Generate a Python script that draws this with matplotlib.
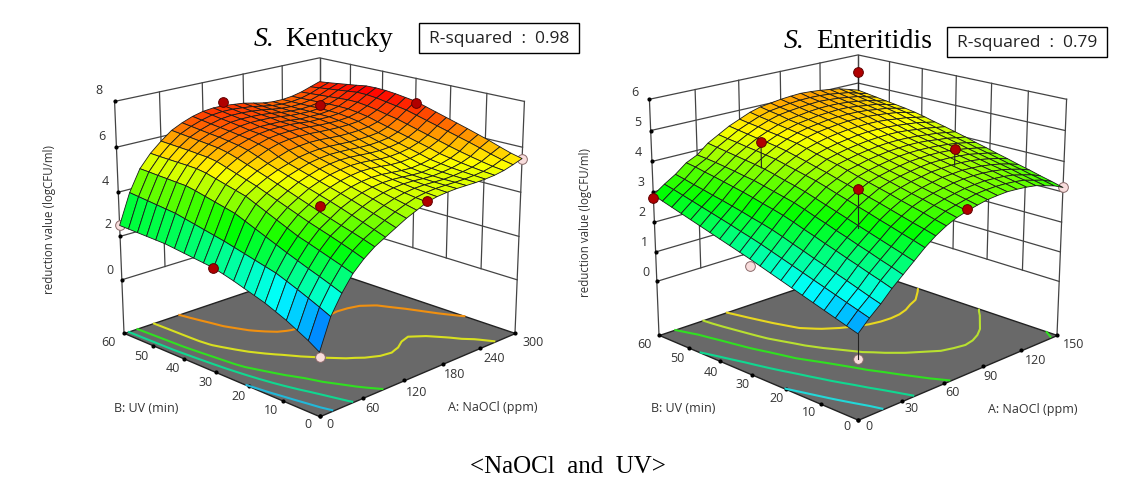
import numpy as np
import matplotlib
matplotlib.use("Agg")
import matplotlib.pyplot as plt
from matplotlib.colors import LinearSegmentedColormap, Normalize
from matplotlib.patches import Rectangle
from mpl_toolkits.mplot3d import proj3d
from mpl_toolkits.mplot3d.art3d import Poly3DCollection

W, H = 1128, 483

# ---------- S. Kentucky ----------
k_naocl = np.arange(0, 301, 15)
k_uv = np.arange(0, 61, 3)
k_z = np.array([
[.20,1.50,2.30,2.95,3.40,3.75,4.00,4.25,4.50,4.70,4.90,5.00,5.05,5.08,5.08,5.08,5.10,5.14,5.22,5.35,5.50],
[.50,1.72,2.49,3.12,3.58,3.91,4.17,4.41,4.63,4.81,4.96,5.04,5.08,5.09,5.09,5.10,5.13,5.18,5.28,5.45,5.62],
[.75,1.93,2.67,3.28,3.74,4.06,4.33,4.56,4.76,4.92,5.03,5.09,5.11,5.10,5.09,5.12,5.17,5.24,5.37,5.58,5.78],
[1.00,2.13,2.84,3.44,3.90,4.20,4.49,4.71,4.90,5.03,5.11,5.15,5.15,5.12,5.11,5.15,5.21,5.31,5.47,5.73,5.95],
[1.20,2.32,3.02,3.60,4.05,4.35,4.65,4.86,5.03,5.14,5.20,5.21,5.19,5.15,5.14,5.19,5.27,5.39,5.58,5.87,6.10],
[1.40,2.50,3.20,3.75,4.20,4.50,4.80,5.00,5.15,5.25,5.30,5.30,5.26,5.22,5.20,5.25,5.34,5.48,5.70,6.00,6.25],
[1.55,2.62,3.39,3.95,4.37,4.66,4.94,5.13,5.28,5.38,5.44,5.44,5.40,5.35,5.34,5.38,5.47,5.62,5.83,6.13,6.39],
[1.70,2.74,3.58,4.15,4.54,4.82,5.08,5.26,5.41,5.50,5.56,5.56,5.53,5.48,5.47,5.51,5.59,5.74,5.96,6.26,6.53],
[1.85,2.86,3.77,4.35,4.71,4.98,5.22,5.39,5.54,5.63,5.68,5.68,5.65,5.62,5.61,5.64,5.71,5.86,6.09,6.39,6.67],
[1.98,2.98,3.96,4.55,4.88,5.14,5.36,5.52,5.67,5.75,5.80,5.80,5.78,5.75,5.74,5.77,5.83,5.98,6.22,6.52,6.81],
[2.10,3.10,4.15,4.75,5.05,5.30,5.50,5.65,5.80,5.88,5.92,5.92,5.90,5.88,5.88,5.90,5.95,6.10,6.35,6.65,6.95],
[2.16,3.20,4.26,4.87,5.19,5.45,5.65,5.82,5.98,6.05,6.09,6.09,6.06,6.03,6.03,6.05,6.10,6.22,6.44,6.73,7.02],
[2.22,3.30,4.37,4.99,5.33,5.60,5.82,6.02,6.16,6.23,6.25,6.25,6.22,6.20,6.19,6.20,6.24,6.35,6.55,6.81,7.09],
[2.28,3.40,4.48,5.11,5.47,5.75,5.98,6.14,6.28,6.34,6.36,6.36,6.33,6.29,6.28,6.28,6.32,6.43,6.63,6.89,7.14],
[2.34,3.50,4.59,5.23,5.61,5.88,6.08,6.24,6.36,6.42,6.43,6.43,6.39,6.34,6.34,6.34,6.38,6.49,6.69,6.94,7.16],
[2.40,3.60,4.68,5.30,5.68,5.97,6.15,6.30,6.40,6.45,6.45,6.45,6.40,6.35,6.35,6.35,6.40,6.50,6.70,6.95,7.15],
[2.42,3.65,4.70,5.32,5.71,6.01,6.21,6.36,6.47,6.52,6.52,6.51,6.46,6.40,6.38,6.37,6.41,6.50,6.67,6.90,7.08],
[2.44,3.70,4.73,5.33,5.74,6.05,6.25,6.41,6.53,6.57,6.57,6.55,6.50,6.43,6.39,6.37,6.40,6.48,6.64,6.85,7.02],
[2.46,3.75,4.75,5.34,5.76,6.09,6.30,6.46,6.58,6.63,6.63,6.60,6.55,6.47,6.41,6.38,6.40,6.47,6.61,6.80,6.96],
[2.48,3.80,4.78,5.35,5.78,6.13,6.35,6.52,6.64,6.69,6.69,6.65,6.60,6.51,6.43,6.39,6.40,6.46,6.58,6.75,6.90],
[2.50,3.85,4.80,5.37,5.80,6.17,6.40,6.58,6.70,6.75,6.75,6.70,6.65,6.55,6.45,6.40,6.40,6.45,6.55,6.70,6.85],
])
k_levels = [1.7, 3.0, 4.0, 5.2, 6.2]
k_level_colors = ["#22b8d8", "#10d890", "#30e020", "#d8e020", "#f09010"]
k_pts_a = [0, 0, 0, 150, 150, 150, 300, 300, 300]
k_pts_b = [0, 30, 60, 0, 30, 60, 0, 30, 60]
k_pts_z = [0.0, 2.1, 2.5, 4.96, 3.4, 6.9, 5.5, 6.85, 5.7]
k_pts_above = [False, True, False, True, True, True, False, True, True]
k_a_ticks = [0, 60, 120, 180, 240, 300]
k_b_ticks = [0, 10, 20, 30, 40, 50, 60]
k_z_ticks = [0, 2, 4, 6, 8]

# ---------- S. Enteritidis ----------
e_naocl = np.arange(0, 150.1, 7.5)
e_uv = np.arange(0, 61, 3)
e_z = np.array([
[.80,1.15,1.45,1.80,2.10,2.40,2.70,2.95,3.15,3.30,3.40,3.48,3.55,3.58,3.60,3.58,3.55,3.50,3.40,3.30,3.15],
[.91,1.26,1.56,1.92,2.22,2.51,2.81,3.05,3.24,3.39,3.48,3.56,3.63,3.66,3.67,3.66,3.63,3.58,3.48,3.39,3.25],
[1.02,1.37,1.68,2.03,2.33,2.62,2.91,3.14,3.34,3.47,3.57,3.64,3.70,3.73,3.75,3.73,3.70,3.65,3.56,3.47,3.34],
[1.13,1.48,1.80,2.15,2.45,2.73,3.02,3.24,3.43,3.56,3.65,3.72,3.78,3.81,3.82,3.81,3.78,3.73,3.65,3.56,3.44],
[1.24,1.59,1.91,2.26,2.56,2.84,3.12,3.34,3.52,3.64,3.73,3.80,3.86,3.88,3.90,3.88,3.85,3.80,3.73,3.64,3.53],
[1.35,1.70,2.03,2.38,2.68,2.95,3.23,3.44,3.62,3.73,3.82,3.88,3.94,3.96,3.97,3.96,3.93,3.88,3.81,3.73,3.63],
[1.46,1.81,2.14,2.49,2.79,3.06,3.33,3.53,3.71,3.82,3.90,3.96,4.01,4.04,4.04,4.03,4.00,3.96,3.89,3.82,3.72],
[1.57,1.92,2.26,2.61,2.91,3.17,3.44,3.63,3.80,3.90,3.98,4.04,4.09,4.11,4.12,4.11,4.08,4.03,3.97,3.90,3.82],
[1.68,2.03,2.37,2.72,3.02,3.28,3.54,3.73,3.89,3.99,4.06,4.12,4.17,4.19,4.19,4.18,4.15,4.11,4.06,3.99,3.91],
[1.79,2.14,2.49,2.84,3.14,3.39,3.65,3.82,3.99,4.07,4.15,4.20,4.24,4.26,4.27,4.26,4.23,4.18,4.14,4.07,4.01],
[1.90,2.25,2.60,2.95,3.25,3.50,3.75,3.92,4.08,4.16,4.23,4.28,4.32,4.34,4.34,4.33,4.30,4.26,4.22,4.16,4.10],
[2.00,2.35,2.69,3.04,3.33,3.59,3.83,4.00,4.16,4.25,4.32,4.37,4.41,4.43,4.44,4.43,4.40,4.35,4.31,4.25,4.19],
[2.10,2.44,2.77,3.12,3.41,3.67,3.91,4.09,4.24,4.34,4.41,4.46,4.51,4.53,4.53,4.52,4.49,4.45,4.41,4.34,4.27],
[2.20,2.54,2.86,3.21,3.49,3.76,3.99,4.17,4.33,4.43,4.51,4.56,4.60,4.62,4.63,4.62,4.59,4.54,4.50,4.43,4.36],
[2.30,2.63,2.94,3.29,3.57,3.84,4.07,4.25,4.41,4.52,4.60,4.65,4.69,4.72,4.72,4.71,4.68,4.64,4.59,4.52,4.44],
[2.40,2.72,3.02,3.36,3.62,3.90,4.12,4.31,4.46,4.58,4.66,4.71,4.76,4.78,4.79,4.78,4.75,4.70,4.66,4.58,4.50],
[2.50,2.81,3.09,3.43,3.68,3.95,4.17,4.36,4.51,4.63,4.72,4.77,4.82,4.84,4.86,4.85,4.81,4.76,4.72,4.63,4.55],
[2.60,2.90,3.17,3.50,3.73,4.00,4.21,4.40,4.55,4.68,4.77,4.82,4.87,4.90,4.91,4.90,4.87,4.82,4.77,4.68,4.60],
[2.70,2.99,3.24,3.56,3.78,4.05,4.26,4.45,4.61,4.74,4.84,4.89,4.93,4.96,4.98,4.96,4.93,4.88,4.83,4.74,4.65],
[2.80,3.08,3.32,3.63,3.82,4.10,4.30,4.50,4.65,4.79,4.89,4.94,4.99,5.02,5.03,5.02,4.99,4.94,4.89,4.79,4.70],
[2.90,3.16,3.39,3.68,3.85,4.15,4.35,4.55,4.70,4.85,4.95,5.00,5.05,5.08,5.10,5.08,5.05,5.00,4.95,4.85,4.75],
])
e_levels = [1.55, 2.45, 3.25, 3.85, 4.4]
e_level_colors = ["#22d8d8", "#10d890", "#30e020", "#b8e030", "#e8d820"]
e_pts_a = [0, 0, 0, 75, 75, 75, 150, 150, 150]
e_pts_b = [0, 30, 60, 0, 30, 60, 0, 30, 60]
e_pts_z = [0.03, 1.68, 2.8, 3.45, 3.1, 3.75, 3.15, 3.5, 5.4]
e_pts_above = [False, False, True, True, True, True, False, True, True]
e_stem_z = [0.8, None, None, None, 1.8, 2.86, None, 2.95, 4.75]
e_a_ticks = [0, 30, 60, 90, 120, 150]
e_b_ticks = [0, 10, 20, 30, 40, 50, 60]
e_z_ticks = [0, 1, 2, 3, 4, 5, 6]

rsm_cmap = LinearSegmentedColormap.from_list(
    "rsm", ["#0000ff", "#00ffff", "#00ff00", "#ffff00", "#ff0000"])

fig = plt.figure(figsize=(W / 100, H / 100), dpi=100, facecolor="white")


def panel(a, b, z, levels, level_colors, a_ticks, b_ticks, z_ticks, zfloor, ztop,
          vmax, pa, pb, pz, above, stems, left_px, right_px):
    ax = fig.add_axes([0.05, 0.05, 500 / W, 500 / H], projection="3d",
                      computed_zorder=False)
    ax.set_axis_off()
    ax.patch.set_alpha(0)
    ax.set_proj_type("persp", focal_length=0.65)
    ax.view_init(elev=18, azim=-135)
    ax.set_box_aspect((1, 1, 0.86))
    amax, bmax = a[-1], b[-1]
    ax.set_xlim(0, amax)
    ax.set_ylim(0, bmax)
    ax.set_zlim(zfloor, ztop)
    wall = "#444444"
    # back walls
    for t in a_ticks:
        zlo = zfloor if t == 0 else z_ticks[0]
        ax.plot([t, t], [bmax, bmax], [zlo, ztop], color=wall, lw=0.9, zorder=1)
    for t in b_ticks:
        zlo = zfloor if t == 0 else z_ticks[0]
        ax.plot([amax, amax], [t, t], [zlo, ztop], color=wall, lw=0.9, zorder=1)
    for t in z_ticks:
        ax.plot([0, amax, amax], [bmax, bmax, 0], [t, t, t], color=wall, lw=0.9, zorder=1)
    ax.plot([0] * len(z_ticks), [bmax] * len(z_ticks), z_ticks, ls="", marker="o",
            ms=2, color="k", zorder=1)
    # floor
    floor = Poly3DCollection([[(0, 0, zfloor), (amax, 0, zfloor),
                               (amax, bmax, zfloor), (0, bmax, zfloor)]],
                             facecolor="#696969", edgecolor="#222222", linewidth=1.0,
                             zorder=2)
    ax.add_collection3d(floor)
    ax.plot(a_ticks, [0] * len(a_ticks), [zfloor] * len(a_ticks), ls="", marker="o",
            ms=2, color="k", zorder=2.5)
    ax.plot([0] * len(b_ticks), b_ticks, [zfloor] * len(b_ticks), ls="", marker="o",
            ms=2, color="k", zorder=2.5)
    # floor contours
    X, Y = np.meshgrid(a, b)
    cs = ax.contour(X, Y, z, levels=levels, colors=level_colors, zdir="z",
                    offset=zfloor, linewidths=1.5)
    cs.set_zorder(3)
    # points under the surface
    for i in range(len(pa)):
        if not above[i]:
            face = "#f8dcdc"
            ax.plot([pa[i]], [pb[i]], [pz[i]], marker="o", ms=7, mfc=face,
                    mec="#8a6a6a", mew=0.7, zorder=3.5)
    # surface
    surf = ax.plot_surface(X, Y, z, rstride=1, cstride=1, cmap=rsm_cmap,
                           norm=Normalize(0, vmax), shade=False,
                           edgecolor="#1a1a1a", linewidth=0.6, antialiased=True)
    surf.set_zorder(4)
    surf.set_clip_on(False)
    # points over the surface
    for i in range(len(pa)):
        if stems is not None and stems[i] is not None:
            ax.plot([pa[i], pa[i]], [pb[i], pb[i]], [pz[i], stems[i]],
                    color="#222222", lw=0.8, zorder=5)
        if above[i]:
            ax.plot([pa[i]], [pb[i]], [pz[i]], marker="o", ms=7, mfc="#b00000",
                    mec="#600000", mew=0.7, zorder=6)
    # fit the box to the reference corners
    for _ in range(2):
        fig.canvas.draw()
        M = ax.get_proj()
        xl, yl, _z = proj3d.proj_transform(0, bmax, zfloor, M)
        xr, yr, _z = proj3d.proj_transform(amax, 0, zfloor, M)
        pl = ax.transData.transform((xl, yl))
        pr = ax.transData.transform((xr, yr))
        bb = ax.get_position()
        cx, cy = (bb.x0 + bb.width / 2) * W, (bb.y0 + bb.height / 2) * H
        sc = (right_px[0] - left_px[0]) / (pr[0] - pl[0])
        mid = (pl + pr) / 2
        tx = (left_px[0] + right_px[0]) / 2
        ty = H - (left_px[1] + right_px[1]) / 2
        ncx = tx - (mid[0] - cx) * sc
        ncy = ty - (mid[1] - cy) * sc
        size = bb.width * W * sc
        ax.set_position([(ncx - size / 2) / W, (ncy - size / 2) / H, size / W, size / H])
    return ax


panel(k_naocl, k_uv, k_z, k_levels, k_level_colors, k_a_ticks, k_b_ticks, k_z_ticks,
      -2.5, 8, 7.1, k_pts_a, k_pts_b, k_pts_z, k_pts_above, None, (124, 333), (515, 333))
panel(e_naocl, e_uv, e_z, e_levels, e_level_colors, e_a_ticks, e_b_ticks, e_z_ticks,
      -1.85, 6, 6.0, e_pts_a, e_pts_b, e_pts_z, e_pts_above, e_stem_z, (659, 335), (1057, 335))


def txt(x, y, s, **kw):
    kw.setdefault("ha", "center")
    kw.setdefault("va", "center")
    fig.text(x / W, 1 - y / H, s, **kw)


SANS = dict(family="Open Sans", fontsize=9, color="#333333")
k_a_lab = [(330, 425), (372, 408), (417, 392), (455, 375), (494, 359), (533, 343)]
k_b_lab = [(308, 425), (271, 411), (239, 397), (206, 383), (173, 369), (141, 356), (108, 343)]
k_z_lab = [(110, 270), (108, 225), (105, 181), (102, 136), (99, 91)]
e_a_lab = [(869, 426), (912, 409), (952, 393), (991, 377), (1036, 361), (1074, 344)]
e_b_lab = [(847, 426), (809, 412), (777, 398), (743, 385), (711, 372), (677, 358), (644, 344)]
e_z_lab = [(646, 272), (644, 243), (642, 213), (641, 183), (638, 153), (638, 123), (635, 93)]
for ticks, labs in [(k_a_ticks, k_a_lab), (k_b_ticks, k_b_lab), (k_z_ticks, k_z_lab),
                    (e_a_ticks, e_a_lab), (e_b_ticks, e_b_lab), (e_z_ticks, e_z_lab)]:
    for t, (x, y) in zip(ticks, labs):
        txt(x, y, str(t), **SANS)

txt(146, 408, "B: UV (min)", **SANS)
txt(493, 408, "A: NaOCl (ppm)", **SANS)
txt(50, 220, "reduction value (logCFU/ml)", rotation=90, family="Open Sans", fontsize=8.3, color="#333333")
txt(683, 409, "B: UV (min)", **SANS)
txt(1033, 409, "A: NaOCl (ppm)", **SANS)
txt(585, 223, "reduction value (logCFU/ml)", rotation=90, family="Open Sans", fontsize=8.3, color="#333333")

SERIF = dict(family="Liberation Serif", fontsize=20, color="black", ha="left")
txt(254, 39, "S.", style="italic", **SERIF)
txt(285, 39, "Kentucky", **SERIF)
txt(784, 42, "S.", style="italic", **SERIF)
txt(816, 42, "Enteritidis", **SERIF)

for (x0, y0, x1, y1, s) in [(419, 23, 579, 53, "R-squared  :  0.98"),
                            (947, 27, 1107, 57, "R-squared  :  0.79")]:
    fig.add_artist(Rectangle((x0 / W, 1 - y1 / H), (x1 - x0) / W, (y1 - y0) / H,
                             transform=fig.transFigure, fill=False, ec="black", lw=1.0))
    txt((x0 + x1) / 2, (y0 + y1) / 2 + 1, s, family="Open Sans", fontsize=12.5, color="#222222")

txt(568, 467, "<NaOCl  and  UV>", family="Liberation Serif", fontsize=18, color="black")

fig.savefig("out.png", dpi=100)
